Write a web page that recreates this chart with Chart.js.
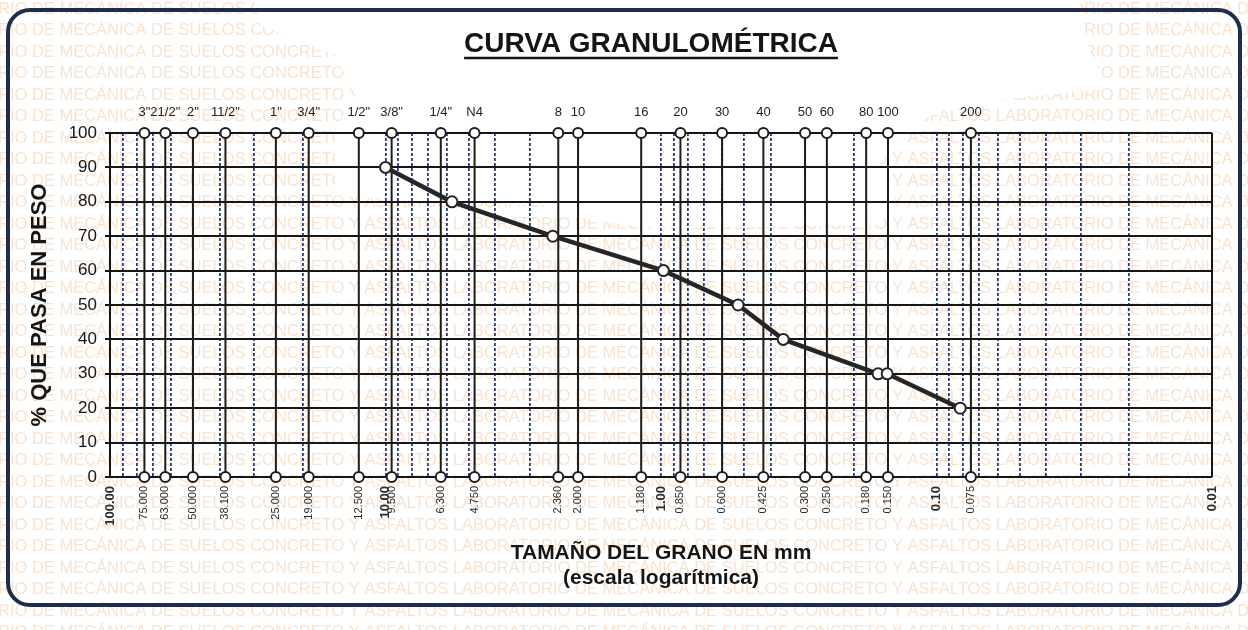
<!DOCTYPE html>
<html>
<head>
<meta charset="utf-8">
<title>Curva granulométrica</title>
<script src="https://cdn.jsdelivr.net/npm/chart.js@4.4.1/dist/chart.umd.min.js"></script>
<style>
  html, body { margin: 0; padding: 0; background: #ffffff; }
  #wrap { width: 1248px; height: 630px; }
</style>
</head>
<body>
<div id="wrap"><canvas id="granulometria" width="1248" height="630"></canvas></div>
<script>
// Tamices: designación (eje superior) y abertura en mm (eje inferior)
const sieveNames  = ['3"', '21/2"', '2"', '11/2"', '1"', '3/4"', '1/2"', '3/8"', '1/4"', 'N4',
                     '8', '10', '16', '20', '30', '40', '50', '60', '80', '100', '200'];
const sieveMm     = [75, 63, 50, 38.1, 25, 19, 12.5, 9.5, 6.3, 4.75,
                     2.36, 2.0, 1.18, 0.85, 0.6, 0.425, 0.3, 0.25, 0.18, 0.15, 0.075];
const sieveLabels = ['75.000', '63.000', '50.000', '38.100', '25.000', '19.000', '12.500', '9.500', '6.300', '4.750',
                     '2.360', '2.000', '1.180', '0.850', '0.600', '0.425', '0.300', '0.250', '0.180', '0.150', '0.075'];
const decadeMm     = [100, 10, 1, 0.1, 0.01];
const decadeLabels = ['100.00', '10.00', '1.00', '0.10', '0.01'];
const pctTicks     = [0, 10, 20, 30, 40, 50, 60, 70, 80, 90, 100];

// Curva: tamaño (mm) y % que pasa en peso
const passMm  = [10.0, 5.74, 2.47, 0.98, 0.525, 0.36, 0.163, 0.151, 0.082];
const passPct = [90, 80, 70, 60, 50, 40, 30, 30, 20];

// Líneas secundarias del papel logarítmico (1..9 x 10^n)
const minorMm = [];
for (let e = -2; e <= 1; e++) {
  for (let m = 1; m <= 9; m++) minorMm.push(+(m * Math.pow(10, e)).toPrecision(6));
}
minorMm.push(100);

const sameMm = (a, b) => Math.abs(Math.log10(a) - Math.log10(b)) < 1e-6;
const idxIn = (list, v) => list.findIndex(s => sameMm(s, v));
const bottomTickMm = minorMm.concat(sieveMm.filter(v => idxIn(minorMm, v) < 0));

const FAMILY = '"Liberation Sans", Arial, Helvetica, sans-serif';
Chart.defaults.font.family = FAMILY;

const WATERMARK = 'LABORATORIO DE MECÁNICA DE SUELOS CONCRETO Y ASFALTOS ';

// Fondo: papel con la marca de agua del laboratorio
const paperPlugin = {
  id: 'paper',
  beforeDraw(chart) {
    const ctx = chart.ctx, W = chart.width, H = chart.height;
    ctx.save();
    ctx.fillStyle = '#ffffff';
    ctx.fillRect(0, 0, W, H);
    ctx.beginPath();
    ctx.rect(0, 0, W, H);
    const blank = [[255,0],[1080,0],[1085,40],[1108,88],[1000,100],[935,112],[900,140],[878,165],
                   [900,190],[880,225],[650,228],[560,215],[545,205],[400,200],[335,195],[335,130],
                   [355,95],[335,55],[260,25]];
    ctx.moveTo(blank[0][0], blank[0][1]);
    for (let i = 1; i < blank.length; i++) ctx.lineTo(blank[i][0], blank[i][1]);
    ctx.closePath();
    ctx.clip('evenodd');
    ctx.font = '16.5px ' + FAMILY;
    ctx.fillStyle = 'rgba(235,160,100,0.30)';
    ctx.textBaseline = 'middle';
    const x0 = -ctx.measureText('LABORATO').width - 2;
    for (let y = 9; y < H + 10; y += 21.5) {
      ctx.fillText(WATERMARK + WATERMARK + WATERMARK, x0, y);
    }
    ctx.restore();
  },
  afterDraw(chart) {
    const ctx = chart.ctx;
    ctx.save();
    // Título subrayado
    const title = 'CURVA GRANULOMÉTRICA';
    ctx.font = 'bold 28px ' + FAMILY;
    ctx.fillStyle = '#151515';
    ctx.textAlign = 'center';
    ctx.textBaseline = 'middle';
    const cx = 651, cy = 44;
    ctx.fillText(title, cx, cy);
    const tw = ctx.measureText(title).width;
    ctx.strokeStyle = '#151515';
    ctx.lineWidth = 2.5;
    ctx.beginPath();
    ctx.moveTo(cx - tw / 2, cy + 14);
    ctx.lineTo(cx + tw / 2, cy + 14);
    ctx.stroke();
    // Marco redondeado
    ctx.strokeStyle = '#1f2c4c';
    ctx.lineWidth = 4;
    ctx.beginPath();
    ctx.roundRect(8, 10, 1232, 595, 22);
    ctx.stroke();
    ctx.restore();
  }
};

const sieveLineData = sieveMm.flatMap(v => [{x: v, y: 0}, {x: v, y: 100}, {x: v, y: null}]);

new Chart(document.getElementById('granulometria'), {
  type: 'line',
  data: {
    datasets: [
      {
        label: '% que pasa',
        data: passMm.map((x, i) => ({x, y: passPct[i]})),
        borderColor: '#262626',
        borderWidth: 4.5,
        tension: 0,
        pointRadius: 5.5,
        pointBackgroundColor: '#ffffff',
        pointBorderColor: '#262626',
        pointBorderWidth: 2,
        clip: false
      },
      {
        label: 'Tamices',
        data: sieveLineData,
        borderColor: '#1c1c1c',
        borderWidth: 2,
        spanGaps: false,
        pointRadius: c => (c.raw && c.raw.y !== null ? 5 : 0),
        pointBackgroundColor: '#ffffff',
        pointBorderColor: '#1c1c1c',
        pointBorderWidth: 2,
        clip: false
      },
      {
        label: 'Borde',
        data: [{x: 0.01, y: 0}, {x: 0.01, y: 100}],
        borderColor: '#151515',
        borderWidth: 2,
        pointRadius: 0,
        clip: false
      }
    ]
  },
  options: {
    responsive: false,
    animation: false,
    devicePixelRatio: 1,
    layout: { padding: { left: 0, right: 36, top: 70, bottom: 0 } },
    plugins: {
      legend: { display: false },
      tooltip: { enabled: false },
      title: { display: false }
    },
    scales: {
      x: {
        type: 'logarithmic',
        position: 'bottom',
        min: 0.01,
        max: 100,
        reverse: true,
        afterBuildTicks: s => { s.ticks = bottomTickMm.map(v => ({value: v})); },
        afterFit: s => { s.height = 153; },
        ticks: {
          autoSkip: false,
          minRotation: 90,
          maxRotation: 90,
          padding: 9,
          color: '#2a2a2a',
          font: c => (c.tick && idxIn(decadeMm, c.tick.value) >= 0)
            ? {family: FAMILY, size: 13, weight: 'bold'}
            : {family: FAMILY, size: 11},
          callback: v => {
            const i = idxIn(sieveMm, v);
            if (i >= 0) return sieveLabels[i];
            const j = idxIn(decadeMm, v);
            return j >= 0 ? decadeLabels[j] : '';
          }
        },
        grid: {
          drawTicks: false,
          lineWidth: 1.8,
          color: c => (c.tick && idxIn(minorMm, c.tick.value) >= 0) ? '#2e3a78' : 'rgba(0,0,0,0)'
        },
        border: { display: false, dash: [3, 2] },
        title: {
          display: true,
          text: ['TAMAÑO DEL GRANO EN mm', '(escala logarítmica)'],
          color: '#151515',
          font: {family: FAMILY, size: 21, weight: 'bold', lineHeight: 1.2},
          padding: {top: 0, bottom: 39}
        }
      },
      xTop: {
        type: 'logarithmic',
        position: 'top',
        min: 0.01,
        max: 100,
        reverse: true,
        afterBuildTicks: s => { s.ticks = sieveMm.map(v => ({value: v})); },
        afterFit: s => { s.height = 63; },
        ticks: {
          autoSkip: false,
          minRotation: 0,
          maxRotation: 0,
          padding: 13,
          color: '#222222',
          font: {family: FAMILY, size: 13},
          callback: v => {
            const i = idxIn(sieveMm, v);
            return i >= 0 ? sieveNames[i] : '';
          }
        },
        grid: { display: false, drawTicks: false },
        border: { display: false }
      },
      y: {
        type: 'linear',
        position: 'left',
        min: 0,
        max: 100,
        afterBuildTicks: s => { s.ticks = pctTicks.map(v => ({value: v})); },
        afterFit: s => { s.width = 110; },
        ticks: { padding: 8, color: '#151515', font: {family: FAMILY, size: 17} },
        grid: { color: '#161616', lineWidth: 2, tickLength: 5, tickColor: '#161616' },
        border: { display: true, color: '#151515', width: 2 },
        title: {
          display: true,
          text: '% QUE PASA EN PESO',
          color: '#151515',
          font: {family: FAMILY, size: 22, weight: 'bold'},
          padding: {top: 27, bottom: 0}
        }
      }
    }
  },
  plugins: [paperPlugin]
});
</script>
</body>
</html>
